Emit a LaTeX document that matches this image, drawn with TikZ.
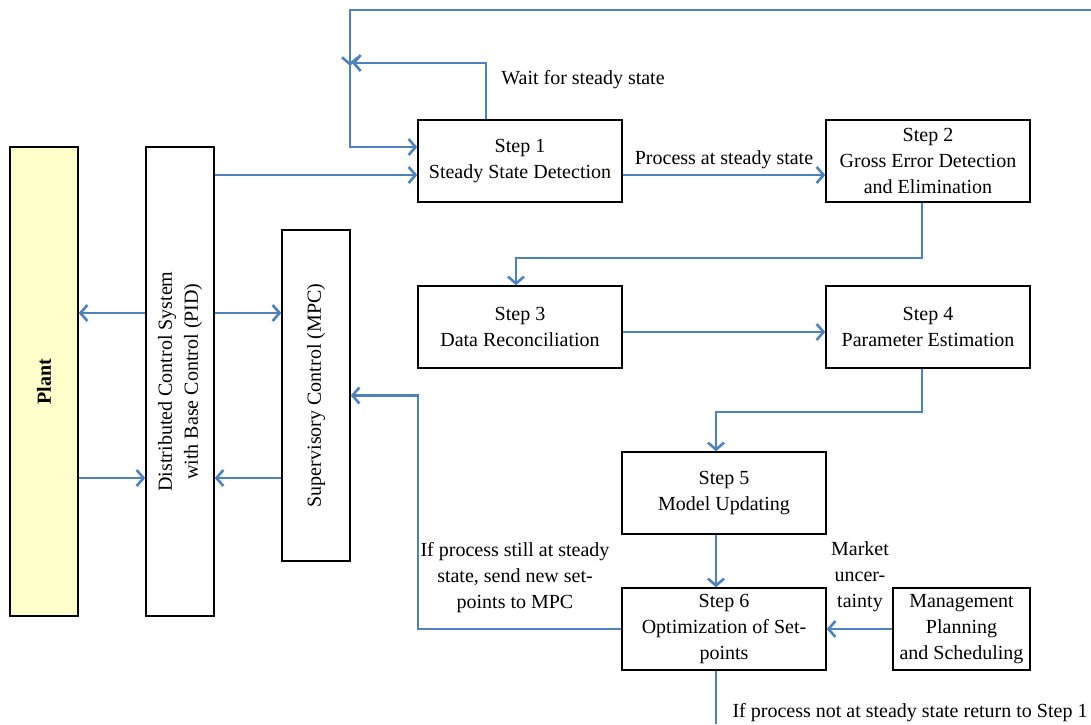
\documentclass[tikz,border=0pt]{standalone}
\usepackage{fontspec}
\setmainfont{Liberation Serif}
\usetikzlibrary{arrows.meta}
\definecolor{flow}{HTML}{4F81BD}
\definecolor{plantfill}{HTML}{FFFFCC}
\begin{document}
\begin{tikzpicture}[x=1pt,y=-1pt,
  font=\fontsize{20}{26}\selectfont,
  box/.style={draw=black, line width=1.4pt, fill=white, align=center, inner sep=0pt,
              minimum width=204pt, minimum height=82pt},
  vbox/.style={draw=black, line width=1.4pt, fill=white, align=center, inner sep=0pt,
              minimum width=68pt},
  flowline/.style={draw=flow, line width=2.8pt},
  arr/.style={flowline, -{Straight Barb[length=7pt,width=16pt,line width=2.6pt]}},
  lbl/.style={align=center, inner sep=0pt}]
\useasboundingbox (0,0) rectangle (1091,724);

% controllers and plant
\node[vbox, minimum height=469pt, fill=plantfill] (plant) at (44,381.5) {};
\node[rotate=90, lbl, font=\fontsize{20}{26}\selectfont\bfseries] at (plant) {Plant};
\node[vbox, minimum height=469pt] (dcs) at (180,381.5) {};
\node[rotate=90, lbl] at (dcs) {Distributed Control System\\with Base Control (PID)};
\node[vbox, minimum height=331pt] (mpc) at (316,395.5) {};
\node[rotate=90, lbl] at (mpc) {Supervisory Control (MPC)};

% procedure steps
\node[box] (s1) at (520,161) {Step 1\\Steady State Detection};
\node[box] (s2) at (928,161) {Step 2\\Gross Error Detection\\and Elimination};
\node[box] (s3) at (520,327) {Step 3\\Data Reconciliation};
\node[box] (s4) at (928,327) {Step 4\\Parameter Estimation};
\node[box] (s5) at (724,493) {Step 5\\Model Updating};
\node[box] (s6) at (724,629) {Step 6\\Optimization of Set-\\points};
\node[box, minimum width=137pt] (mgmt) at (961.5,629) {Management\\Planning\\and Scheduling};

% links between plant, DCS and MPC
\draw[arr] (dcs.west |- 0,313) -- (plant.east |- 0,313);
\draw[arr] (plant.east |- 0,478) -- (dcs.west |- 0,478);
\draw[arr] (dcs.east |- 0,313) -- (mpc.west |- 0,313);
\draw[arr] (mpc.west |- 0,478) -- (dcs.east |- 0,478);
\draw[arr] (dcs.east |- 0,175) -- ([yshift=-14pt]s1.west);

% return path from step 6 and waiting loop
\coordinate (topR) at (1091,10);
\coordinate (topL) at (350,10);
\coordinate (merge) at (350,63);
\draw[arr] (topR) -- (topL) -- ([yshift=-3pt]merge);
\draw[arr] ([xshift=-34pt]s1.north) |- ([xshift=2pt]merge);
\draw[arr] (merge) |- ([yshift=14pt]s1.west);
\node[lbl] at (583,80) {Wait for steady state};

% main sequence
\draw[arr] ([yshift=-14pt]s1.east) -- ([yshift=-14pt]s2.west)
  node[midway, above=5pt, lbl] {Process at steady state};
\draw[arr] ([xshift=-6pt]s2.south) -- ([xshift=-6pt]s2.south |- 0,258) -| ([xshift=-4pt]s3.north);
\draw[arr] ([yshift=-5pt]s3.east) -- ([yshift=-5pt]s4.west);
\draw[arr] ([xshift=-6pt]s4.south) -- ([xshift=-6pt]s4.south |- 0,412) -| ([xshift=-8pt]s5.north);
\draw[arr] ([xshift=-8pt]s5.south) -- ([xshift=-8pt]s6.north);
\draw[arr] (mgmt.west) -- (s6.east);
\node[lbl] at (860,577) {Market\\uncer-\\tainty};

% set-points to MPC
\draw[arr] (s6.west) -- (418,629) |- (mpc.east);
\node[lbl] at (515,578) {If process still at steady\\state, send new set-\\points to MPC};

% back to step 1
\draw[flowline] ([xshift=-8pt]s6.south) -- ([xshift=-8pt]s6.south |- 0,724);
\node[lbl] at (910,713) {If process not at steady state return to Step 1};
\end{tikzpicture}
\end{document}
